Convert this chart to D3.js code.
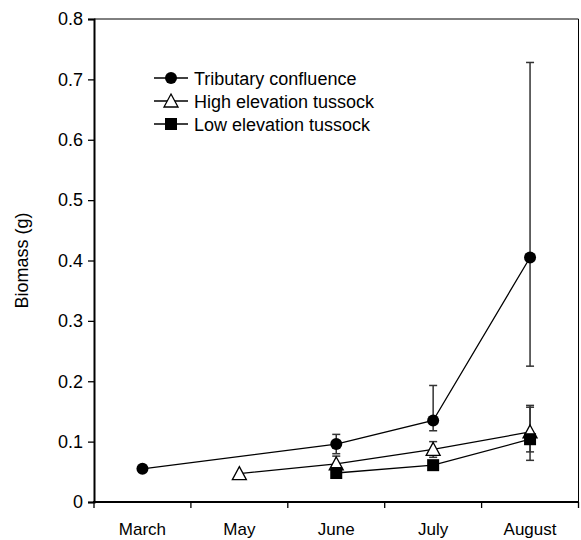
<!DOCTYPE html>
<html>
<head>
<meta charset="utf-8">
<script src="https://cdn.jsdelivr.net/npm/d3@7"></script>
<style>
  body { margin: 0; background: #fff; }
  text { font-family: "Liberation Sans", Arial, sans-serif; }
</style>
</head>
<body>
<script>
// month categories and series (mean, upper bar end, lower bar end)
const months = ["March", "May", "June", "July", "August"];
const yTicks = [0, 0.1, 0.2, 0.3, 0.4, 0.5, 0.6, 0.7, 0.8];

const tribMonths = ["March", "June", "July", "August"];
const tribMean = [0.055, 0.096, 0.135, 0.405];
const tribHi = [null, 0.112, 0.193, 0.728];
const tribLo = [null, 0.080, 0.118, 0.225];

const highMonths = ["May", "June", "July", "August"];
const highMean = [0.047, 0.063, 0.087, 0.116];
const highHi = [null, 0.076, 0.100, 0.160];
const highLo = [null, 0.050, 0.074, 0.083];

const lowMonths = ["June", "July", "August"];
const lowMean = [0.048, 0.061, 0.104];
const lowHi = [null, null, 0.157];
const lowLo = [null, null, 0.069];

const seriesNames = ["Tributary confluence", "High elevation tussock", "Low elevation tussock"];

const W = 581, H = 540;
const margin = { left: 94, right: 2, top: 19, bottom: 38 };
const fontSize = 18;

const svg = d3.select("body").append("svg")
  .attr("width", W)
  .attr("height", H);

const x = d3.scaleBand()
  .domain(months)
  .range([margin.left, W - margin.right - 0.5]);

const y = d3.scaleLinear()
  .domain([0, 0.8])
  .range([H - margin.bottom, margin.top]);

const fmt = d => d === 0 ? "0" : d3.format(".1f")(d);

// frame: thin top and right
svg.append("line")
  .attr("x1", x.range()[0]).attr("x2", x.range()[1])
  .attr("y1", y(0.8)).attr("y2", y(0.8))
  .attr("stroke", "#000").attr("stroke-width", 1);
svg.append("line")
  .attr("x1", x.range()[1]).attr("x2", x.range()[1])
  .attr("y1", y(0.8)).attr("y2", y(0))
  .attr("stroke", "#000").attr("stroke-width", 1);

// y axis
const yAxis = svg.append("g")
  .attr("transform", `translate(${margin.left},0)`)
  .call(d3.axisLeft(y).tickValues(yTicks).tickFormat(fmt).tickSize(6).tickPadding(5));
yAxis.select(".domain").attr("stroke-width", 2);
yAxis.selectAll(".tick line").attr("stroke-width", 1.3);
yAxis.selectAll("text").attr("font-size", fontSize).attr("fill", "#000")
  .attr("font-family", "'Liberation Sans', Arial, sans-serif");

// x axis with ticks at band edges
const xAxis = svg.append("g")
  .attr("transform", `translate(0,${y(0)})`);
xAxis.append("line")
  .attr("x1", x.range()[0] - 1).attr("x2", x.range()[1])
  .attr("stroke", "#000").attr("stroke-width", 2);
const edges = months.map(m => x(m)).concat([x.range()[1]]);
xAxis.selectAll("line.tk").data(edges).join("line")
  .attr("class", "tk")
  .attr("x1", d => d).attr("x2", d => d)
  .attr("y1", 0).attr("y2", 6)
  .attr("stroke", "#000").attr("stroke-width", 1.3);
xAxis.selectAll("text").data(months).join("text")
  .attr("x", d => x(d) + x.bandwidth() / 2)
  .attr("y", 33)
  .attr("text-anchor", "middle")
  .attr("font-size", 17)
  .text(d => d);

// y label
svg.append("text")
  .attr("transform", `translate(28,${(y(0) + y(0.8)) / 2}) rotate(-90)`)
  .attr("text-anchor", "middle")
  .attr("font-size", fontSize)
  .text("Biomass (g)");

const cx = m => x(m) + x.bandwidth() / 2;

function build(ms, mean, hi, lo) {
  return ms.map((m, i) => ({ m: m, v: mean[i], hi: hi[i], lo: lo[i] }));
}
const series = [
  { name: seriesNames[0], shape: "circle", pts: build(tribMonths, tribMean, tribHi, tribLo) },
  { name: seriesNames[1], shape: "triangle", pts: build(highMonths, highMean, highHi, highLo) },
  { name: seriesNames[2], shape: "square", pts: build(lowMonths, lowMean, lowHi, lowLo) }
];

// error bars
series.forEach(s => {
  s.pts.filter(p => p.hi != null).forEach(p => {
    const g = svg.append("g").attr("stroke", "#333").attr("stroke-width", 1.5);
    g.append("line").attr("x1", cx(p.m)).attr("x2", cx(p.m))
      .attr("y1", y(p.hi)).attr("y2", y(p.lo));
    [p.hi, p.lo].forEach(v => {
      g.append("line").attr("x1", cx(p.m) - 4).attr("x2", cx(p.m) + 4)
        .attr("y1", y(v)).attr("y2", y(v));
    });
  });
});

// lines
const line = d3.line().x(d => cx(d.m)).y(d => y(d.v));
series.forEach(s => {
  svg.append("path")
    .datum(s.pts)
    .attr("fill", "none")
    .attr("stroke", "#000")
    .attr("stroke-width", 1.3)
    .attr("d", line);
});

function marker(g, shape, px, py) {
  if (shape === "circle") {
    g.append("circle").attr("cx", px).attr("cy", py).attr("r", 6).attr("fill", "#000");
  } else if (shape === "square") {
    g.append("rect").attr("x", px - 6).attr("y", py - 6).attr("width", 12).attr("height", 12).attr("fill", "#000");
  } else {
    g.append("path")
      .attr("d", `M${px},${py - 7}L${px + 7},${py + 6}L${px - 7},${py + 6}Z`)
      .attr("fill", "#fff").attr("stroke", "#000").attr("stroke-width", 1.3);
  }
}

series.forEach(s => {
  s.pts.forEach(p => marker(svg, s.shape, cx(p.m), y(p.v)));
});

// legend
const legend = svg.append("g").attr("transform", "translate(154,78)");
series.forEach((s, i) => {
  const g = legend.append("g").attr("transform", `translate(0,${i * 23})`);
  g.append("line").attr("x1", 0).attr("x2", 34).attr("stroke", "#000").attr("stroke-width", 1.3);
  marker(g, s.shape, 17, 0);
  g.append("text").attr("x", 40).attr("y", 6.5).attr("font-size", fontSize).text(s.name);
});
</script>
</body>
</html>
